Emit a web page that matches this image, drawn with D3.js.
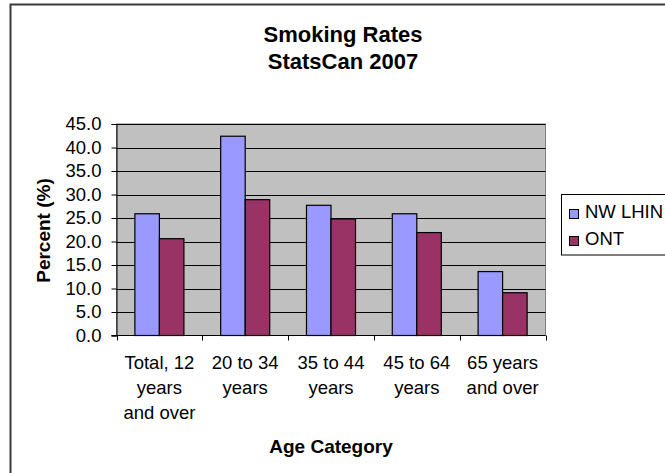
<!DOCTYPE html>
<html>
<head>
<meta charset="utf-8">
<script src="https://cdn.jsdelivr.net/npm/d3@7"></script>
<style>
  html, body { margin: 0; padding: 0; background: #fff; }
  svg { display: block; }
  text { font-family: "Liberation Sans", Arial, sans-serif; fill: #000; }
</style>
</head>
<body>
<svg id="chart" width="665" height="473"></svg>
<script>
// Age groups (multi-line labels) and smoking rates (%) per region
const categories = [
  ["Total, 12", "years", "and over"],
  ["20 to 34", "years"],
  ["35 to 44", "years"],
  ["45 to 64", "years"],
  ["65 years", "and over"]
];
const seriesNames = ["NW LHIN", "ONT"];
const nwLhin = [25.9, 42.4, 27.7, 25.9, 13.6];
const ont = [20.6, 28.9, 24.8, 21.9, 9.1];
const yTicks = [0, 5, 10, 15, 20, 25, 30, 35, 40, 45];
const colors = ["#9999ff", "#993366"];

const values = [nwLhin, ont];
const catKeys = categories.map(c => c.join(" "));
const rows = catKeys.map((k, i) => ({ key: k, lines: categories[i], vals: values.map(s => s[i]) }));

const svg = d3.select("#chart");

// outer chart frame
svg.append("rect")
  .attr("x", 10.5).attr("y", 4.5)
  .attr("width", 700).attr("height", 500)
  .attr("fill", "#fff").attr("stroke", "#3a3a3a").attr("stroke-width", 2);

const plot = { left: 116.5, right: 545.5, top: 124, bottom: 335.5 };

const x0 = d3.scaleBand().domain(catKeys).range([plot.left, plot.right]).padding(0);
const x1 = d3.scaleBand().domain(seriesNames).range([0, x0.bandwidth()])
  .paddingInner(0).paddingOuter(0.75);
const y = d3.scaleLinear().domain([0, 45]).range([plot.bottom, plot.top]);

// plot background
svg.append("rect")
  .attr("x", plot.left).attr("y", plot.top)
  .attr("width", plot.right - plot.left).attr("height", plot.bottom - plot.top)
  .attr("fill", "#c0c0c0").attr("stroke", "#808080").attr("stroke-width", 1);

// horizontal gridlines
svg.append("g").selectAll("line")
  .data(yTicks.filter(t => t > 0))
  .join("line")
  .attr("x1", plot.left).attr("x2", plot.right)
  .attr("y1", d => Math.round(y(d)) + 0.5).attr("y2", d => Math.round(y(d)) + 0.5)
  .attr("stroke", "#000").attr("stroke-width", 1);

// bars
const groups = svg.append("g").selectAll("g")
  .data(rows)
  .join("g")
  .attr("transform", d => `translate(${x0(d.key)},0)`);

groups.selectAll("rect")
  .data(d => d.vals.map((v, i) => ({ name: seriesNames[i], v, i })))
  .join("rect")
  .attr("x", d => x1(d.name))
  .attr("y", d => y(d.v))
  .attr("width", x1.bandwidth())
  .attr("height", d => y(0) - y(d.v))
  .attr("fill", d => colors[d.i])
  .attr("stroke", "#000").attr("stroke-width", 1.2);

// y axis
const yAxis = d3.axisLeft(y).tickValues(yTicks).tickSize(5).tickPadding(10)
  .tickFormat(d3.format(".1f"));
const gy = svg.append("g").attr("transform", `translate(${plot.left},0)`).call(yAxis);
gy.select(".domain").attr("stroke", "#000");
gy.selectAll(".tick line").attr("stroke", "#000");
gy.selectAll(".tick text")
  .attr("font-family", "'Liberation Sans', Arial, sans-serif")
  .attr("font-size", 18.5).attr("fill", "#000");

// x axis line with ticks at category boundaries
const boundaries = catKeys.map(k => x0(k)).concat([plot.right]);
svg.append("line")
  .attr("x1", plot.left - 5).attr("x2", plot.right)
  .attr("y1", plot.bottom).attr("y2", plot.bottom)
  .attr("stroke", "#000");
svg.append("g").selectAll("line")
  .data(boundaries)
  .join("line")
  .attr("x1", d => Math.round(d) + 0.5).attr("x2", d => Math.round(d) + 0.5)
  .attr("y1", plot.bottom).attr("y2", plot.bottom + 5)
  .attr("stroke", "#000");

// category labels
const catText = svg.append("g").selectAll("text")
  .data(rows)
  .join("text")
  .attr("text-anchor", "middle")
  .attr("font-size", 18.5)
  .attr("x", d => x0(d.key) + x0.bandwidth() / 2)
  .attr("y", 369);
catText.selectAll("tspan")
  .data(d => d.lines.map(l => ({ l, x: x0(d.key) + x0.bandwidth() / 2 })))
  .join("tspan")
  .attr("x", d => d.x)
  .attr("dy", (d, i) => i === 0 ? 0 : 25)
  .text(d => d.l);

// axis titles
svg.append("text")
  .attr("x", 331).attr("y", 453)
  .attr("text-anchor", "middle")
  .attr("font-size", 19).attr("font-weight", "bold")
  .text("Age Category");

svg.append("text")
  .attr("transform", "translate(50,230.5) rotate(-90)")
  .attr("text-anchor", "middle")
  .attr("font-size", 19).attr("font-weight", "bold")
  .text("Percent (%)");

// chart title
const title = svg.append("text")
  .attr("text-anchor", "middle")
  .attr("font-size", 22).attr("font-weight", "bold");
title.append("tspan").attr("x", 343).attr("y", 42).text("Smoking Rates");
title.append("tspan").attr("x", 343).attr("y", 68.5).text("StatsCan 2007");

// legend
const legend = svg.append("g");
legend.append("rect")
  .attr("x", 561.5).attr("y", 194.5)
  .attr("width", 120).attr("height", 60.5)
  .attr("fill", "#fff").attr("stroke", "#000").attr("stroke-width", 1);
const li = legend.selectAll("g.item")
  .data(seriesNames)
  .join("g").attr("class", "item")
  .attr("transform", (d, i) => `translate(0,${i * 27})`);
li.append("rect")
  .attr("x", 569.5).attr("y", 209.5)
  .attr("width", 9).attr("height", 9)
  .attr("fill", (d, i) => colors[i])
  .attr("stroke", "#000").attr("stroke-width", 1);
li.append("text")
  .attr("x", 585).attr("y", 218)
  .attr("font-size", 18.5)
  .text(d => d);
</script>
</body>
</html>
